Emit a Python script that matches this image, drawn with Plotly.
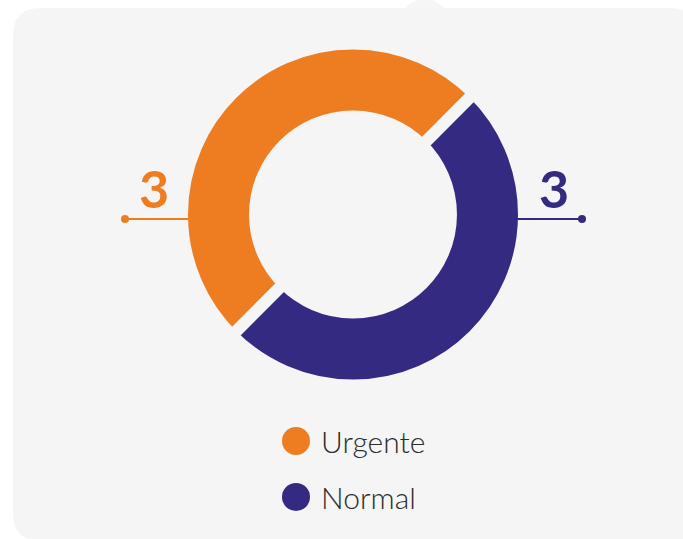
import plotly.graph_objects as go

categories = ["Urgente", "Normal"]
values = [3, 3]
colors = ["#EE7D22", "#352A82"]

W, H = 683, 539
BG = "#F5F5F5"

def px(x):
    return x / W

def py(y):
    return 1 - y / H

cx, cy, R, gap = 353, 214.5, 171, 12
hole = 98 / R

fig = go.Figure()
fig.add_trace(go.Pie(
    labels=categories,
    values=values,
    marker=dict(colors=colors, line=dict(color=BG, width=gap)),
    hole=hole,
    sort=False,
    direction="clockwise",
    rotation=225,
    textinfo="none",
    hoverinfo="label+value",
    showlegend=False,
    domain=dict(x=[px(cx - R), px(cx + R)], y=[py(cy + R), py(cy - R)]),
))

shapes = []
# small bump on the top edge (drawn under the panel)
shapes.append(dict(type="circle", xref="paper", yref="paper",
                   x0=px(400), x1=px(450), y0=py(49), y1=py(-1),
                   fillcolor="#F6F6F6", line=dict(width=0), layer="below"))
# background panel with rounded corners
x0, y0, x1, y1, r = 13, 8, 698, 541, 28
path = (f"M {px(x0 + r)} {py(y0)} L {px(x1 - r)} {py(y0)} "
        f"Q {px(x1)} {py(y0)} {px(x1)} {py(y0 + r)} L {px(x1)} {py(y1 - r)} "
        f"Q {px(x1)} {py(y1)} {px(x1 - r)} {py(y1)} L {px(x0 + r)} {py(y1)} "
        f"Q {px(x0)} {py(y1)} {px(x0)} {py(y1 - r)} L {px(x0)} {py(y0 + r)} "
        f"Q {px(x0)} {py(y0)} {px(x0 + r)} {py(y0)} Z")
shapes.append(dict(type="path", xref="paper", yref="paper", path=path,
                   fillcolor=BG, line=dict(width=0), layer="below"))

annotations = []
# leader lines + value labels
leaders = [
    dict(x_start=190, x_end=125, tx=154),
    dict(x_start=516, x_end=582, tx=554),
]
ly = 219
for i, ld in enumerate(leaders):
    c = colors[i]
    shapes.append(dict(type="line", xref="paper", yref="paper",
                       x0=px(ld["x_start"]), x1=px(ld["x_end"]), y0=py(ly), y1=py(ly),
                       line=dict(color=c, width=2)))
    shapes.append(dict(type="circle", xref="paper", yref="paper",
                       x0=px(ld["x_end"] - 4), x1=px(ld["x_end"] + 4),
                       y0=py(ly + 4), y1=py(ly - 4),
                       fillcolor=c, line=dict(width=0)))
    annotations.append(dict(xref="paper", yref="paper", x=px(ld["tx"]), y=py(188),
                            text=str(values[i]), showarrow=False,
                            xanchor="center", yanchor="middle",
                            font=dict(family="Lato", size=52, color=c, weight=700)))

# custom legend with large circles
leg_y = [441, 497]
for i, cat in enumerate(categories):
    shapes.append(dict(type="circle", xref="paper", yref="paper",
                       x0=px(296 - 14), x1=px(296 + 14),
                       y0=py(leg_y[i] + 14), y1=py(leg_y[i] - 14),
                       fillcolor=colors[i], line=dict(width=0)))
    annotations.append(dict(xref="paper", yref="paper", x=px(319), y=py(leg_y[i]),
                            text=cat, showarrow=False, xanchor="left", yanchor="middle",
                            font=dict(family="Lato Light, Lato", size=30,
                                      color="#2B2B2B", weight=300)))

fig.update_layout(
    width=W, height=H, autosize=False,
    margin=dict(l=0, r=0, t=0, b=0),
    paper_bgcolor="white", plot_bgcolor="white",
    shapes=shapes, annotations=annotations,
    showlegend=False,
)

fig.write_html(
    "out.html",
    config={"displayModeBar": False},
    post_script="document.body.style.margin='0';document.body.style.overflow='hidden';",
)
